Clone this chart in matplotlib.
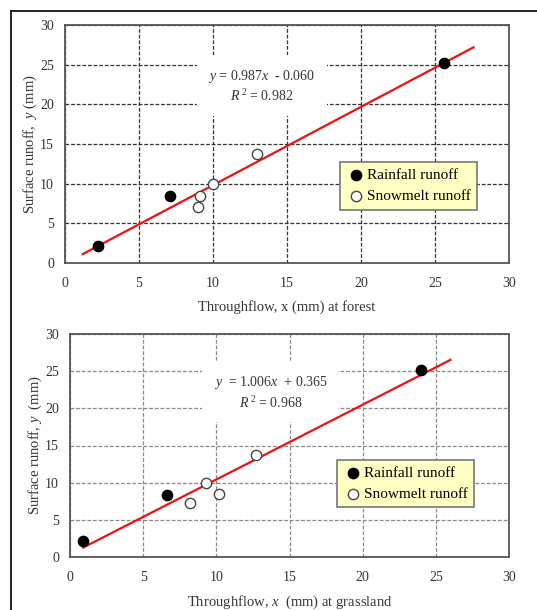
import matplotlib
matplotlib.use("Agg")
import matplotlib.pyplot as plt
import numpy as np
from matplotlib.lines import Line2D

plt.rcParams['font.family'] = ['Liberation Serif', 'DejaVu Serif']
plt.rcParams['mathtext.fontset'] = 'custom'
plt.rcParams['mathtext.rm'] = 'Liberation Serif'
plt.rcParams['mathtext.it'] = 'Liberation Serif:italic'

# Forest data
forest_rain_x = [2.2, 7.1, 25.6]
forest_rain_y = [2.1, 8.4, 25.2]
forest_snow_x = [9.0, 9.1, 10.0, 13.0]
forest_snow_y = [7.1, 8.5, 9.9, 13.7]
forest_slope, forest_icpt = 0.987, -0.060
forest_line_x = [1.2, 27.6]

# Grassland data
grass_rain_x = [0.9, 6.6, 24.0]
grass_rain_y = [2.2, 8.4, 25.2]
grass_snow_x = [8.2, 9.3, 10.2, 12.7]
grass_snow_y = [7.2, 10.0, 8.5, 13.7]
grass_slope, grass_icpt = 1.006, 0.365
grass_line_x = [0.9, 26.0]

ticks = [0, 5, 10, 15, 20, 25, 30]

W, H = 537, 610
fig = plt.figure(figsize=(W / 100, H / 100), dpi=100)

# outer frame
fig.add_artist(Line2D([11 / W, 1.0], [1 - 11 / H, 1 - 11 / H], color='black', lw=1.2))
fig.add_artist(Line2D([11 / W, 11 / W], [0, 1 - 11 / H], color='black', lw=1.2))


def make_ax(l, t, r, b):
    return fig.add_axes([l / W, 1 - b / H, (r - l) / W, (b - t) / H])


def draw(ax, rx, ry, sx, sy, slope, icpt, lx, eq, r2, textpos, gridcol, xlabel, ylabel, legpos):
    ax.set_xlim(0, 30)
    ax.set_ylim(0, 30)
    ax.set_xticks(ticks)
    ax.set_yticks(ticks)
    ax.grid(True, color=gridcol, linestyle=(0, (3, 1.5)), lw=0.9)
    ax.set_axisbelow(True)
    for s in ax.spines.values():
        s.set_color('#555555')
        s.set_linewidth(1.3)
    ax.tick_params(axis='x', length=0, labelsize=10, colors='#333333', pad=10)
    ax.tick_params(axis='y', length=0, labelsize=10, colors='#333333', pad=8)
    lxa = np.array(lx)
    ax.plot(lxa, slope * lxa + icpt, color='#ee1111', lw=1.6, zorder=3)
    ax.scatter(rx, ry, s=55, color='black', zorder=4, label='Rainfall runoff')
    ax.scatter(sx, sy, s=55, facecolor='white', edgecolor='#444444', lw=1.0, zorder=4,
               label='Snowmelt runoff')
    ax.text(textpos[0], textpos[1], eq + '\n' + r2, ha='center', va='center', fontsize=10,
            color='#333333', linespacing=1.3,
            bbox=dict(facecolor='white', edgecolor='none', pad=8), zorder=2)
    leg = ax.legend(loc='center right', bbox_to_anchor=legpos, frameon=True,
                    fancybox=False, fontsize=11, handletextpad=0.0, borderpad=0.4,
                    labelspacing=0.5, handlelength=1.4, markerscale=1.0,
                    borderaxespad=0)
    leg.get_frame().set_facecolor('#ffffc4')
    leg.get_frame().set_edgecolor('#777777')
    leg.get_frame().set_alpha(1)
    leg.get_frame().set_linewidth(1.2)
    ax.set_xlabel(xlabel, fontsize=10.5, color='#333333', labelpad=7)
    ax.set_ylabel(ylabel, fontsize=10.5, color='#333333', labelpad=1)


ax1 = make_ax(65, 25, 509, 263)
draw(ax1, forest_rain_x, forest_rain_y, forest_snow_x, forest_snow_y,
     forest_slope, forest_icpt, forest_line_x,
     r'$\it{y}$ = 0.987$\it{x}$  - 0.060', r'$\it{R}$$^{\ 2}$ = 0.982', (13.3, 22.3), '#333333',
     'Throughflow, x (mm) at forest', r'Surface runoff,  $\it{y}$ (mm)', (0.928, 0.324))

ax2 = make_ax(70, 334, 509, 557)
draw(ax2, grass_rain_x, grass_rain_y, grass_snow_x, grass_snow_y,
     grass_slope, grass_icpt, grass_line_x,
     r'$\it{y}$  = 1.006$\it{x}$  + 0.365', r'$\it{R}$$^{\ 2}$ = 0.968', (13.7, 22.1), '#888888',
     r'Throughflow, $\it{x}$  (mm) at grassland', r'Surface runoff, $\it{y}$  (mm)', (0.92, 0.33))

fig.savefig('out.png', dpi=100, facecolor='white')
